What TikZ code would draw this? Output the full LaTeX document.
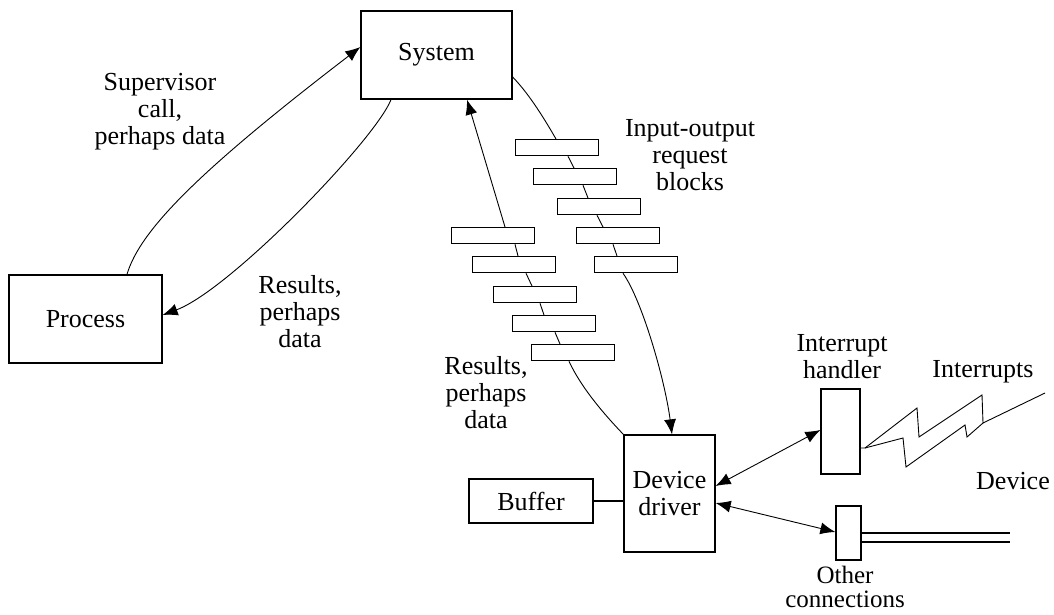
\documentclass[tikz,border=0pt]{standalone}
\usepackage{fontspec}
\setmainfont{Liberation Serif}
\usetikzlibrary{arrows.meta}
\begin{document}
\begin{tikzpicture}[x=1pt,y=-1pt,
  box/.style={draw, line width=1.3pt, inner sep=0pt, align=center, font=\fontsize{26}{27}\selectfont},
  blk/.style={draw, line width=1.3pt, minimum width=83pt, minimum height=16pt, inner sep=0pt, anchor=north west},
  lbl/.style={inner sep=0pt, align=center, font=\fontsize{26}{27}\selectfont},
  conn/.style={line width=0.9pt},
  thick line/.style={line width=1.3pt},
  tip/.style={-{Latex[length=15pt,width=12pt]}},
  both/.style={{Latex[length=15pt,width=12pt]}-{Latex[length=15pt,width=12pt]}}
]
\fill[white] (0,0) rectangle (1054,615);
\useasboundingbox (0,0) rectangle (1054,615);

% main boxes
\node[box, minimum width=151pt, minimum height=88pt] (sys) at (436.5,55) {System};
\node[box, minimum width=153pt, minimum height=88pt] (proc) at (85.5,319) {Process};
\node[box, minimum width=91pt, minimum height=117pt] (dd) at (669.5,493.5) {Device\\driver};
\node[box, minimum width=124pt, minimum height=44pt] (buf) at (531,501) {Buffer};
\node[box, minimum width=39pt, minimum height=85pt] (ih) at (840.5,431.5) {};
\node[box, minimum width=25pt, minimum height=54pt] (oc) at (848.5,533) {};

% request blocks (right chain)
\node[blk] (r1) at (515,139) {};
\node[blk] (r2) at (533,168) {};
\node[blk] (r3) at (557,198) {};
\node[blk] (r4) at (576,227) {};
\node[blk] (r5) at (594,256) {};
% result blocks (left chain)
\node[blk] (l1) at (451,227) {};
\node[blk] (l2) at (472,256) {};
\node[blk] (l3) at (493,286) {};
\node[blk] (l4) at (512,315) {};
\node[blk] (l5) at (531,344) {};

% labels
\node[lbl] (tsup) at (160,112) {Supervisor\\call,\\perhaps data};
\node[lbl] (tres1) at (300,312) {Results,\\perhaps\\data};
\node[lbl] (tio) at (690,155) {Input-output\\request\\blocks};
\node[lbl] (tres2) at (486,393) {Results,\\perhaps\\data};
\node[lbl] (tih) at (842,357) {Interrupt\\handler};
\node[lbl] (tint) at (983,372) {Interrupts};
\node[lbl] (tdev) at (1013,481) {Device};
\node[lbl, font=\fontsize{25}{24}\selectfont] (toc) at (845,587) {Other\\connections};

% process <-> system
\draw[conn,tip] ([xshift=41.5pt]proc.north) .. controls (140,230) and (200,170) .. ([yshift=8pt]sys.west);
\draw[conn,tip] ([xshift=-45.5pt]sys.south) .. controls (375,140) and (230,290) .. ([yshift=4pt]proc.east);

% system -> request blocks -> device driver
\draw[conn] ([yshift=-22pt]sys.east) .. controls (530,95) and (545,120) .. ([xshift=41pt]r1.north west);
\draw[conn] ([xshift=53pt]r1.south west) -- ([xshift=41pt]r2.north west);
\draw[conn] ([xshift=50pt]r2.south west) -- ([xshift=31pt]r3.north west);
\draw[conn] ([xshift=40pt]r3.south west) -- ([xshift=27pt]r4.north west);
\draw[conn] ([xshift=37pt]r4.south west) -- ([xshift=23pt]r5.north west);
\draw[conn,tip] ([xshift=29pt]r5.south west) .. controls (642,300) and (665,380) .. ([xshift=2.5pt]dd.north);

% device driver -> result blocks -> system
\draw[conn] (dd.north west) .. controls (600,410) and (580,385) .. ([xshift=38pt]l5.south west);
\draw[conn] ([xshift=43pt]l4.south west) -- ([xshift=29pt]l5.north west);
\draw[conn] ([xshift=47pt]l3.south west) -- ([xshift=32pt]l4.north west);
\draw[conn] ([xshift=54pt]l2.south west) -- ([xshift=39pt]l3.north west);
\draw[conn] ([xshift=64pt]l1.south west) -- ([xshift=46pt]l2.north west);
\draw[conn,tip] ([xshift=54pt]l1.north west) -- ([xshift=30.5pt]sys.south);

% device driver links
\draw[thick line] (buf.east) -- (buf.east -| dd.west);
\draw[conn,both] ([yshift=7.5pt]dd.east) -- ([yshift=1.5pt]ih.west);
\draw[conn,both] ([yshift=-9.5pt]dd.east) -- ([yshift=1pt]oc.west);

% other connections: double line
\coordinate (oe1) at (1010,533);
\coordinate (oe2) at (1010,542);
\draw[thick line] (oc.east |- oe1) -- (oe1);
\draw[thick line] (oc.east |- oe2) -- (oe2);

% interrupt lightning
\coordinate (bend) at (1045,393);
\draw[conn] ([yshift=-16.5pt]ih.east) -- (865,448) -- (917,408) -- (919,437) -- (982,395) -- (983,423) -- (bend);
\draw[conn] (865,448) -- (903,438) -- (906,467) -- (965,425) -- (967,437) -- (983,423);
\end{tikzpicture}
\end{document}
